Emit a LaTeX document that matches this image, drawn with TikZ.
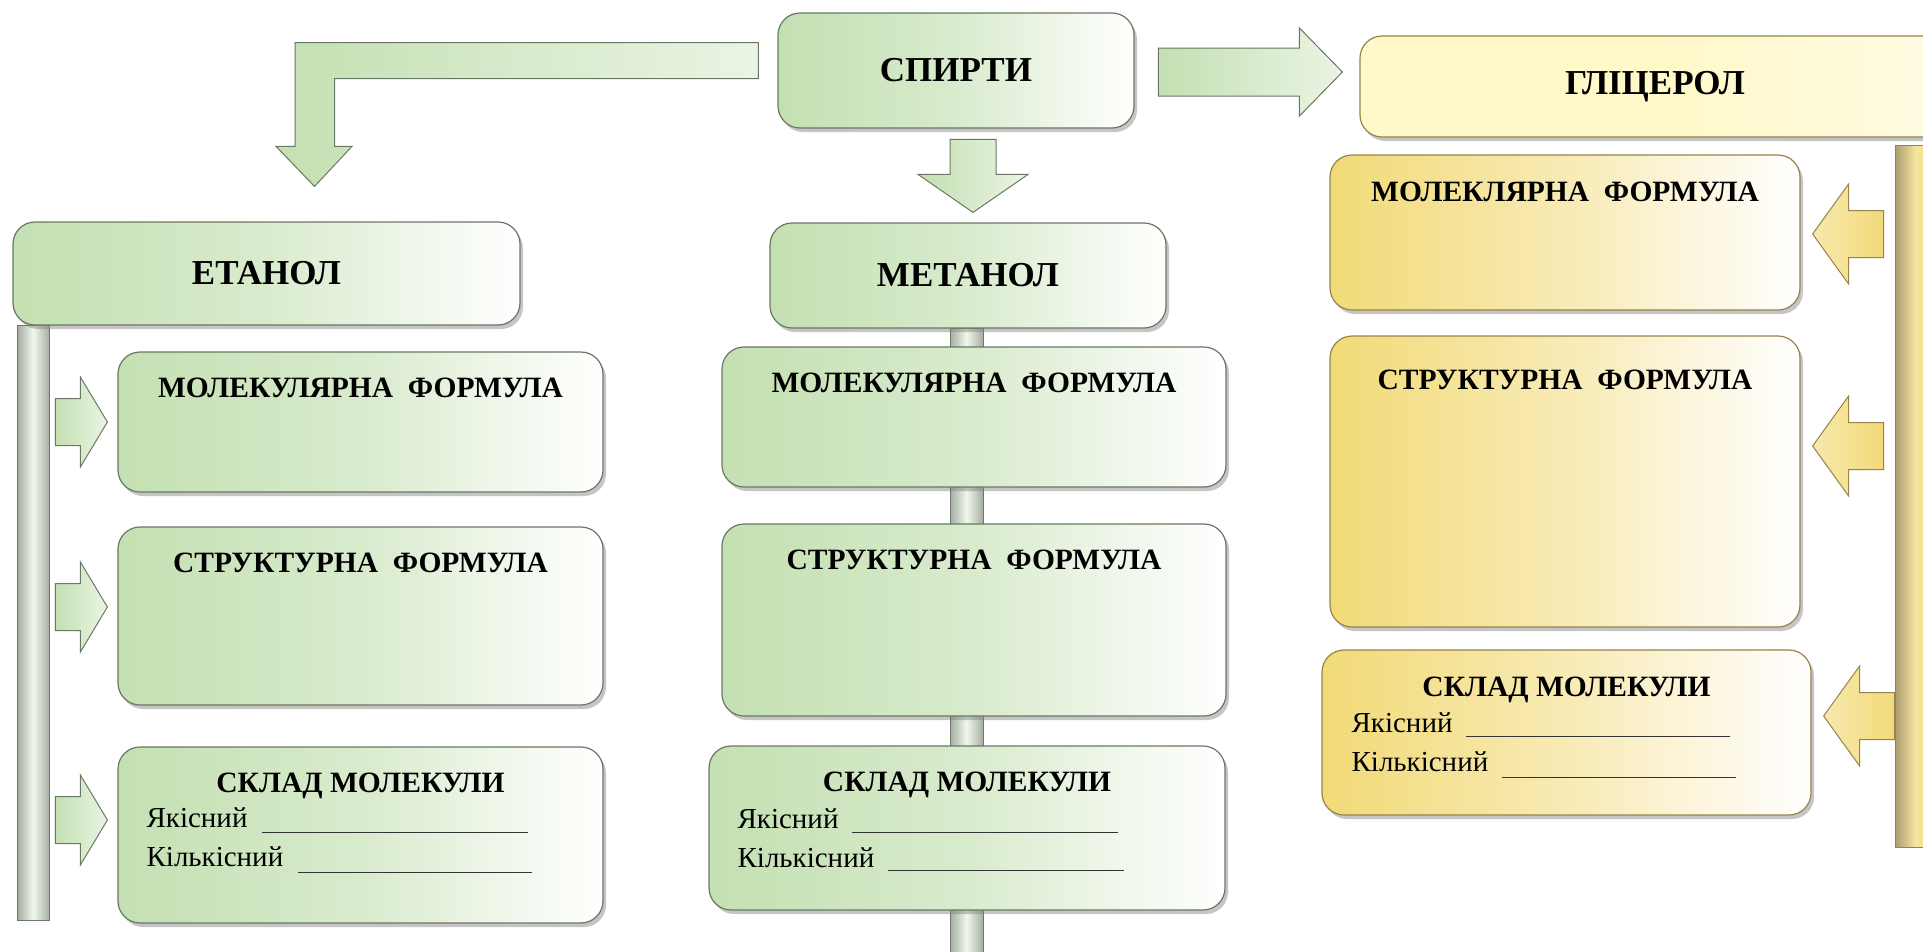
\documentclass[tikz,border=0pt]{standalone}
\usepackage{fontspec}
\setmainfont{Liberation Serif}
\usetikzlibrary{positioning, calc, shadows, backgrounds}

\definecolor{boxgreen}{RGB}{196,224,178}
\definecolor{edgegreen}{RGB}{105,120,100}
\definecolor{boxyellow}{RGB}{242,218,120}
\definecolor{paleyellow}{RGB}{255,248,200}
\definecolor{edgeyellow}{RGB}{150,132,75}

\tikzset{
	gbox/.style={draw=edgegreen, line width=1.2pt, rounded corners=22,
		left color=boxgreen, right color=white, middle color=boxgreen!65!white,
		drop shadow={opacity=0.45, shadow xshift=3pt, shadow yshift=-4pt}, inner sep=0pt},
	ybox/.style={gbox, draw=edgeyellow, left color=boxyellow, right color=white, middle color=boxyellow!55!white},
	pbox/.style={gbox, draw=edgeyellow, left color=paleyellow, right color=paleyellow!50!white, middle color=paleyellow},
	title/.style={font=\fontsize{35}{40}\selectfont\bfseries},
	head/.style={font=\fontsize{29.5}{34}\selectfont\bfseries, inner sep=0pt},
	body/.style={font=\fontsize{29}{34}\selectfont, inner sep=0pt},
	blank/.style={line width=1.5pt, black!80},
	garrow/.style={draw=edgegreen, line width=1pt, left color=boxgreen, right color=boxgreen!35!white},
	yarrow/.style={draw=edgeyellow, line width=1pt, left color=boxyellow!60!white, right color=boxyellow},
	gbar/.style={draw=edgegreen, line width=1pt, left color=edgegreen!60!white, right color=edgegreen!60!white, middle color=boxgreen!25!white},
	ybar/.style={draw=edgeyellow, line width=1pt, left color=edgeyellow!80!white, right color=boxyellow, middle color=boxyellow!70!white}
}

% block arrow: style, tip, head length, head half height, stem length
\newcommand{\sidearrow}[5]{%
	\path[#1] (#2) -- ++({-(#3)},{-(#4)}) -- ++(0,{#4-23.5}) -- ++({-(#5)},0) -- ++(0,47)
		-- ++(#5,0) -- ++(0,{#4-23.5}) -- cycle;}

\begin{document}
\begin{tikzpicture}[x=1pt, y=-1pt]
	\useasboundingbox (0,0) rectangle (1923,951);
	\begin{scope}[on background layer]
		\fill[white] (0,0) rectangle (1923,951);
	\end{scope}
	\clip (0,0) rectangle (1923,951);
	
	% top row
	\node[gbox, title, minimum width=356, minimum height=115] (spirty) at (956,70.5) {СПИРТИ};
	\node[gbox, title, minimum width=507, minimum height=103] (etanol) at (266.5,273.5) {ЕТАНОЛ};
	\node[gbox, title, minimum width=396, minimum height=105] (metanol) at (968,275.5) {МЕТАНОЛ};
	\node[pbox, title, minimum width=590, minimum height=101] (glic) at (1655,86.5) {ГЛІЦЕРОЛ};
	
	% ethanol column
	\node[gbox, minimum width=485, minimum height=140] (etmol) at (360.5,422) {};
	\node[gbox, minimum width=485, minimum height=178] (etstr) at (360.5,616) {};
	\node[gbox, minimum width=485, minimum height=176] (etsk) at (360.5,835) {};
	\node[head, anchor=base] (etmolh) at ($(etmol.north)+(0,46)$) {МОЛЕКУЛЯРНА\ \ ФОРМУЛА};
	\node[head, anchor=base] (etstrh) at ($(etstr.north)+(0,46)$) {СТРУКТУРНА\ \ ФОРМУЛА};
	\node[head, anchor=base] (etskh) at ($(etsk.north)+(0,46)$) {СКЛАД МОЛЕКУЛИ};
	\node[body, anchor=base west] (etq1) at ($(etsk.north west)+(29,81)$) {Якісний};
	\node[body, anchor=base west] (etq2) at ($(etsk.north west)+(29,120)$) {Кількісний};
	\draw[blank] ($(etsk.north west)+(145,86)$) -- ++(266,0);
	\draw[blank] ($(etsk.north west)+(181,126)$) -- ++(234,0);
	
	% methanol column
	\node[gbox, minimum width=504, minimum height=140] (memol) at (974,417) {};
	\node[gbox, minimum width=504, minimum height=192] (mestr) at (974,620) {};
	\node[gbox, minimum width=516, minimum height=164] (mesk) at (967,828) {};
	\node[head, anchor=base] (memolh) at ($(memol.north)+(0,46)$) {МОЛЕКУЛЯРНА\ \ ФОРМУЛА};
	\node[head, anchor=base] (mestrh) at ($(mestr.north)+(0,46)$) {СТРУКТУРНА\ \ ФОРМУЛА};
	\node[head, anchor=base] (meskh) at ($(mesk.north)+(0,46)$) {СКЛАД МОЛЕКУЛИ};
	\node[body, anchor=base west] (meq1) at ($(mesk.north west)+(29,83)$) {Якісний};
	\node[body, anchor=base west] (meq2) at ($(mesk.north west)+(29,122)$) {Кількісний};
	\draw[blank] ($(mesk.north west)+(144,87)$) -- ++(266,0);
	\draw[blank] ($(mesk.north west)+(180,125)$) -- ++(236,0);
	
	% glycerol column
	\node[ybox, minimum width=470, minimum height=155] (glmol) at (1565,232.5) {};
	\node[ybox, minimum width=470, minimum height=291] (glstr) at (1565,481.5) {};
	\node[ybox, minimum width=489, minimum height=165] (glsk) at (1566.5,732.5) {};
	\node[head, anchor=base] (glmolh) at ($(glmol.north)+(0,47)$) {МОЛЕКЛЯРНА\ \ ФОРМУЛА};
	\node[head, anchor=base] (glstrh) at ($(glstr.north)+(0,54)$) {СТРУКТУРНА\ \ ФОРМУЛА};
	\node[head, anchor=base] (glskh) at ($(glsk.north)+(0,47)$) {СКЛАД МОЛЕКУЛИ};
	\node[body, anchor=base west] (glq1) at ($(glsk.north west)+(30,83)$) {Якісний};
	\node[body, anchor=base west] (glq2) at ($(glsk.north west)+(30,122)$) {Кількісний};
	\draw[blank] ($(glsk.north west)+(145,87)$) -- ++(264,0);
	\draw[blank] ($(glsk.north west)+(181,128)$) -- ++(234,0);
	
	% arrows out of СПИРТИ
	\coordinate (lhead) at ($(etanol.north)+(48,-35)$);
	\coordinate (lstart) at ($(spirty.west)+(-19,-10)$);
	\path[garrow] ($(lstart)+(0,-18)$) -| ($(lhead)+(-19.5,-40)$) -- ++(-19,0) -- (lhead)
		-- ++(37.5,-40) -- ++(-17.5,0) |- ($(lstart)+(0,18)$) -- cycle;
	\coordinate (dtip) at ($(metanol.north)+(5,-10)$);
	\path[garrow] ($(dtip)+(-23,-73)$) -- ++(0,35) -- ++(-32,0) -- (dtip) -- ++(55,-38)
		-- ++(-32,0) -- ++(0,-35) -- cycle;
	\coordinate (rtip) at ($(glic.west)+(-17,-14.5)$);
	\path[garrow] ($(rtip)+(-184,-24)$) -- ++(141,0) -- ++(0,-20) -- (rtip) -- ++(-43,44)
		-- ++(0,-20) -- ++(-141,0) -- cycle;
	
	% side arrows
	\sidearrow{garrow}{$(etmol.west)+(-10,0)$}{27}{45}{25}
	\sidearrow{garrow}{$(etstr.west)+(-10,-9)$}{27}{45}{25}
	\sidearrow{garrow}{$(etsk.west)+(-10,-15)$}{27}{45}{25}
	\sidearrow{yarrow}{$(glmol.east)+(12,1.5)$}{-36}{50}{-35}
	\sidearrow{yarrow}{$(glstr.east)+(12,-35.5)$}{-36}{50}{-35}
	\sidearrow{yarrow}{$(glsk.east)+(12,-16.5)$}{-36}{50}{-35}
	
	% spines behind the boxes
	\begin{scope}[on background layer]
		\path[gbar] ($(etanol.south west)+(5,0)$) rectangle ++(32,595);
		\path[gbar] ($(metanol.south)+(-18,0)$) rectangle ++(33,640);
		\path[ybar] ($(glic.south west)+(536,8)$) rectangle ++(40,702);
	\end{scope}
\end{tikzpicture}
\end{document}
